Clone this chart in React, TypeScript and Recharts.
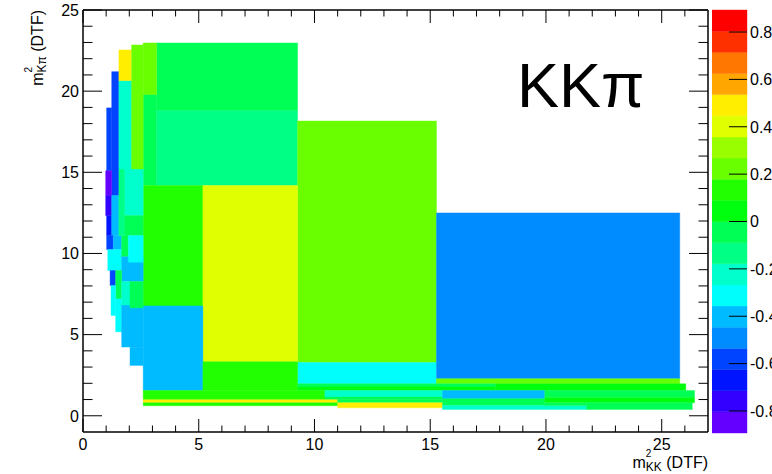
import React from 'react';
import { ComposedChart, XAxis, YAxis, ReferenceArea, Scatter } from 'recharts';

type Bin = [number, number, number, number, number]; // xLow, xHigh, yLow, yHigh, z

const FONT = '"Liberation Sans", Arial, Helvetica, sans-serif';

// axis ranges / ticks
const xDomain: [number, number] = [0, 27];
const yDomain: [number, number] = [-1, 25];
const xTicks = Array.from({ length: 27 }, (_, i) => i);
const yTicks = Array.from({ length: 26 }, (_, i) => i);
const zTicks = [-0.8, -0.6, -0.4, -0.2, 0, 0.2, 0.4, 0.6, 0.8];
const Z_MIN = -0.893;
const Z_MAX = 0.893;
const N_CONTOURS = 20;

// large upper bins
const upperBins: Bin[] = [
  [3.18, 9.27, 18.8, 22.97, -0.04],
  [2.6, 3.18, 19.77, 22.97, 0.22],
  [2.6, 3.18, 14.18, 19.77, -0.04],
  [3.18, 9.27, 14.18, 18.8, -0.13],
  [9.27, 15.27, 3.28, 18.16, 0.22],
];

// central bins
const centralBins: Bin[] = [
  [2.6, 5.18, 6.77, 14.18, 0.14],
  [5.18, 9.27, 3.33, 14.18, 0.4],
  [9.27, 15.27, 1.97, 3.28, -0.31],
  [15.27, 25.78, 2.28, 12.5, -0.49],
  [15.27, 25.78, 1.97, 2.28, 0.22],
  [2.6, 5.18, 1.56, 6.77, -0.4],
  [5.18, 9.27, 1.56, 3.33, 0.14],
];

// narrow bins near the left kinematic edge
const leftBins: Bin[] = [
  [1.02, 1.24, 15.1, 18.97, -0.58],
  [1.24, 1.55, 13.57, 21.2, -0.58],
  [0.98, 1.24, 13.57, 15.1, -0.85],
  [0.98, 1.24, 12.33, 13.57, -0.76],
  [1.02, 1.24, 11.1, 12.33, -0.67],
  [1.24, 1.55, 11.1, 13.57, -0.4],
  [1.02, 1.31, 10.24, 11.1, -0.58],
  [1.31, 1.67, 10.24, 11.1, -0.4],
  [1.55, 1.81, 11.1, 15.21, -0.13],
  [1.81, 2.6, 12.33, 15.21, -0.22],
  [1.81, 2.6, 11.1, 12.33, -0.04],
  [1.55, 2.1, 15.21, 20.65, -0.22],
  [1.55, 2.1, 20.65, 22.54, 0.49],
  [2.1, 2.6, 15.21, 22.85, 0.22],
  [1.07, 1.67, 8.95, 10.24, -0.31],
  [1.67, 1.96, 9.79, 11.1, -0.04],
  [1.67, 2.6, 8.27, 9.79, -0.4],
  [1.96, 2.6, 9.46, 11.1, -0.31],
  [1.17, 1.41, 8.02, 8.95, -0.58],
  [1.41, 1.67, 7.2, 8.95, -0.04],
  [1.21, 1.41, 6.18, 8.02, -0.31],
  [1.41, 1.67, 5.17, 7.2, -0.31],
  [1.67, 2.6, 4.23, 6.83, -0.4],
  [2.03, 2.6, 3.1, 4.23, -0.4],
  [1.67, 2.03, 6.83, 8.27, -0.22],
  [2.03, 2.6, 6.65, 8.27, -0.04],
];

// thin bins along the bottom edge
const lowerBins: Bin[] = [
  [9.27, 17.83, 1.77, 1.97, -0.04],
  [9.27, 17.83, 1.56, 1.77, 0.05],
  [17.83, 26.04, 1.56, 1.97, 0.05],
  [2.6, 10.45, 0.985, 1.56, 0.14],
  [10.45, 15.53, 1.15, 1.56, -0.22],
  [10.45, 15.53, 0.985, 1.15, -0.04],
  [15.53, 19.95, 1.05, 1.56, -0.4],
  [19.95, 26.42, 1.11, 1.56, -0.04],
  [2.6, 11.0, 0.8, 0.985, 0.49],
  [2.6, 11.0, 0.62, 0.8, 0.14],
  [11.0, 15.53, 0.8, 0.985, -0.04],
  [11.0, 15.53, 0.49, 0.8, 0.49],
  [15.53, 19.95, 0.63, 1.05, -0.04],
  [19.95, 26.42, 0.8, 1.11, 0.05],
  [15.53, 21.75, 0.39, 0.63, -0.22],
  [19.95, 21.75, 0.63, 0.8, -0.04],
  [21.75, 26.32, 0.39, 0.8, -0.04],
];

const allBins: Bin[] = [...upperBins, ...centralBins, ...leftBins, ...lowerBins];

function contourIndex(z: number): number {
  const j = Math.floor(((z - Z_MIN) / (Z_MAX - Z_MIN)) * N_CONTOURS);
  return Math.max(0, Math.min(N_CONTOURS - 1, j));
}
function contourColor(j: number): string {
  const idx = Math.floor(((j + 0.99) * 50) / N_CONTOURS);
  const hue = 280 - (idx + 1) * 5.6;
  return `hsl(${hue.toFixed(2)}, 100%, 50%)`;
}
const colorFor = (z: number) => contourColor(contourIndex(z));

const paletteBands = Array.from({ length: N_CONTOURS }, (_, j) => ({
  lo: Z_MIN + ((Z_MAX - Z_MIN) * j) / N_CONTOURS,
  hi: Z_MIN + ((Z_MAX - Z_MIN) * (j + 1)) / N_CONTOURS,
  color: contourColor(j),
}));

const dummy = [{ x: 0, y: -1 }];

const BottomTick = (p: any) => {
  const { x, y, payload } = p;
  const v = payload.value;
  const major = v % 5 === 0;
  return (
    <g>
      <line x1={x} x2={x} y1={y} y2={y - (major ? 13 : 6.5)} stroke="#000" strokeWidth={1} />
      {major && (
        <text x={x} y={y + 18} textAnchor="middle" fontSize={16} fontFamily={FONT} fill="#000">
          {v}
        </text>
      )}
    </g>
  );
};
const TopTick = (p: any) => {
  const { x, y, payload } = p;
  const major = payload.value % 5 === 0;
  return <line x1={x} x2={x} y1={y} y2={y + (major ? 13 : 6.5)} stroke="#000" strokeWidth={1} />;
};
const LeftTick = (p: any) => {
  const { x, y, payload } = p;
  const v = payload.value;
  const major = v % 5 === 0;
  return (
    <g>
      <line x1={x} x2={x + (major ? 19 : 9.5)} y1={y} y2={y} stroke="#000" strokeWidth={1} />
      {major && (
        <text x={x - 4} y={y} dy="0.36em" textAnchor="end" fontSize={16} fontFamily={FONT} fill="#000">
          {v}
        </text>
      )}
    </g>
  );
};
const RightTick = (p: any) => {
  const { x, y, payload } = p;
  const major = payload.value % 5 === 0;
  return <line x1={x} x2={x - (major ? 19 : 9.5)} y1={y} y2={y} stroke="#000" strokeWidth={1} />;
};
const PaletteTick = (p: any) => {
  const { x, y, payload } = p;
  const v = payload.value;
  const label = Math.abs(v) < 1e-9 ? '0' : v.toFixed(1);
  return (
    <g>
      <line x1={x} x2={x - 18} y1={y} y2={y} stroke="#000" strokeWidth={1} />
      <text x={x + 3} y={y} dy="0.36em" textAnchor="start" fontSize={16} fontFamily={FONT} fill="#000">
        {label}
      </text>
    </g>
  );
};

const axisLine = { stroke: '#000', strokeWidth: 1.5 };

export default function App() {
  return (
    <div style={{ position: 'absolute', left: 0, top: 0, width: 772, height: 474, overflow: 'hidden', background: '#fff' }}>
      <div style={{ position: 'absolute', left: 0, top: 0 }}>
        <ComposedChart width={772} height={474} margin={{ top: 9, right: 63, bottom: 41, left: 82 }}>
          <XAxis xAxisId={0} type="number" dataKey="x" domain={xDomain} ticks={xTicks} interval={0} height={1}
            tickSize={0} tickMargin={0} allowDataOverflow axisLine={axisLine} tickLine={false} tick={BottomTick} />
          <XAxis xAxisId="top" orientation="top" type="number" dataKey="x" domain={xDomain} ticks={xTicks} interval={0}
            height={1} tickSize={0} tickMargin={0} allowDataOverflow axisLine={axisLine} tickLine={false} tick={TopTick} />
          <YAxis yAxisId={0} type="number" dataKey="y" domain={yDomain} ticks={yTicks} interval={0} width={1}
            tickSize={0} tickMargin={0} allowDataOverflow axisLine={axisLine} tickLine={false} tick={LeftTick} />
          <YAxis yAxisId="right" orientation="right" type="number" dataKey="y" domain={yDomain} ticks={yTicks}
            interval={0} width={1} tickSize={0} tickMargin={0} allowDataOverflow axisLine={axisLine} tickLine={false} tick={RightTick} />
          {allBins.map((b, i) => (
            <ReferenceArea key={i} xAxisId={0} yAxisId={0} x1={b[0]} x2={b[1]} y1={b[2]} y2={b[3]}
              fill={colorFor(b[4])} fillOpacity={1} stroke={colorFor(b[4])} strokeWidth={0.4} ifOverflow="visible" />
          ))}
          <Scatter xAxisId={0} yAxisId={0} data={dummy} dataKey="y" fill="none" shape={() => <g />} isAnimationActive={false} />
        </ComposedChart>
      </div>
      <div style={{ position: 'absolute', left: 712, top: 0 }}>
        <ComposedChart width={60} height={474} margin={{ top: 10, right: 24, bottom: 41, left: 0 }}>
          <XAxis type="number" dataKey="x" domain={[0, 1]} hide allowDataOverflow />
          <YAxis type="number" dataKey="y" orientation="right" domain={[Z_MIN, Z_MAX]} ticks={zTicks} interval={0}
            width={1} tickSize={0} tickMargin={0} allowDataOverflow axisLine={false} tickLine={false} tick={PaletteTick} />
          {paletteBands.map((b, j) => (
            <ReferenceArea key={j} x1={0} x2={1} y1={b.lo} y2={b.hi} fill={b.color} fillOpacity={1}
              stroke={b.color} strokeWidth={0.4} ifOverflow="visible" />
          ))}
          <Scatter data={[{ x: 0, y: 0 }]} dataKey="y" fill="none" shape={() => <g />} isAnimationActive={false} />
        </ComposedChart>
      </div>
      <svg width={772} height={474} style={{ position: 'absolute', left: 0, top: 0, pointerEvents: 'none' }}>
        <text x={517} y={107} fontSize={63} fontFamily={FONT} fill="#000">KKπ</text>
        <text x={708} y={468} textAnchor="end" fontSize={16} fontFamily={FONT} fill="#000">
          m<tspan fontSize={10} dy={-11}>2</tspan>
          <tspan fontSize={12} dx={-5.6} dy={14}>KK</tspan>
          <tspan fontSize={16} dy={-3}> (DTF)</tspan>
        </text>
        <text transform="translate(43,10) rotate(-90)" textAnchor="end" fontSize={16} fontFamily={FONT} fill="#000">
          m<tspan fontSize={10} dy={-11}>2</tspan>
          <tspan fontSize={12} dx={-5.6} dy={14}>Kπ</tspan>
          <tspan fontSize={16} dy={-3}> (DTF)</tspan>
        </text>
      </svg>
    </div>
  );
}
